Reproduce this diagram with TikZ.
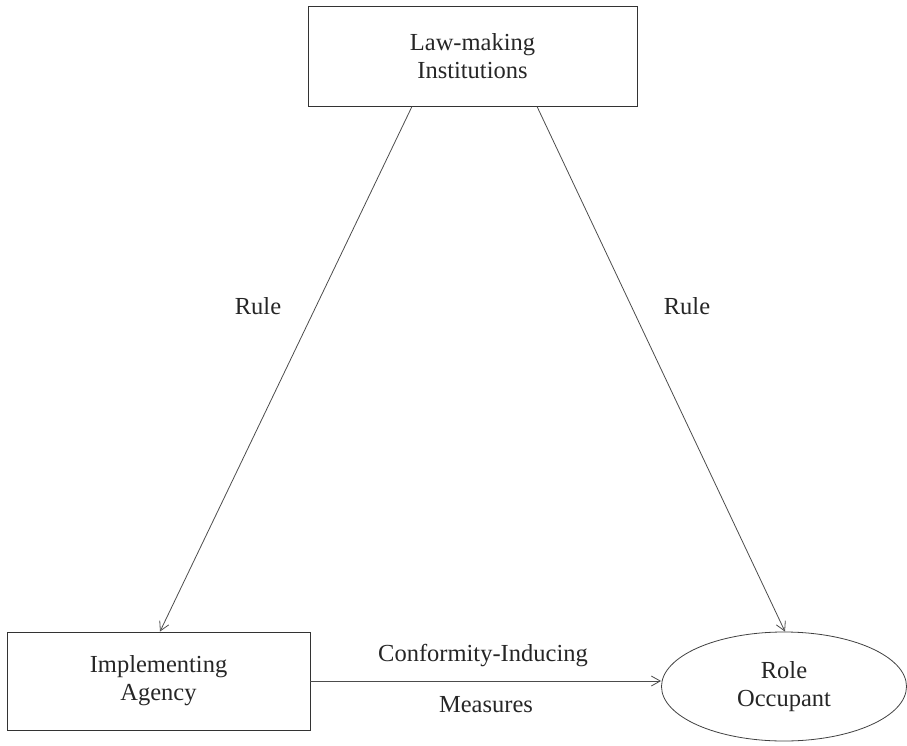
\documentclass[tikz,border=0pt]{standalone}
\usepackage{fontspec}
\setmainfont{Liberation Serif}
\usetikzlibrary{shapes.geometric,arrows.meta,calc}
\begin{document}
\begin{tikzpicture}[x=1pt,y=-1pt,
  every node/.style={font=\fontsize{24.5}{28}\selectfont, text=black!85},
  boxnode/.style={draw=black!80, line width=0.9pt, align=center, inner sep=0pt},
  lbl/.style={inner sep=0pt},
  arr/.style={draw=black!70, line width=0.8pt, -{Straight Barb[length=9pt,width=10pt,line width=0.8pt]}}]
\useasboundingbox (0,0) rectangle (907,746);
\node[boxnode, minimum width=329pt, minimum height=100pt] (top) at (472.5,56) {Law-making\\Institutions};
\node[boxnode, minimum width=303pt, minimum height=98pt] (impl) at (158.5,681) {Implementing\\Agency};
\node[draw=black!75, line width=0.8pt, ellipse, minimum width=245pt, minimum height=109pt, align=center, inner sep=0pt] (role) at (784,686.5) {Role\\Occupant};
\draw[arr] ([xshift=-60.5pt]top.south) -- ([xshift=1.5pt]impl.north);
\draw[arr] ([xshift=64.5pt]top.south) -- ([xshift=1pt]role.north);
\draw[arr] (impl.east) -- (impl.east -| role.west);
\node[lbl] (r1) at (258,306) {Rule};
\node[lbl] (r2) at (687,306) {Rule};
\node[lbl] (c1) at (483,656) {Conformity-Inducing};
\node[lbl] (c2) at (486,705) {Measures};
\end{tikzpicture}
\end{document}
